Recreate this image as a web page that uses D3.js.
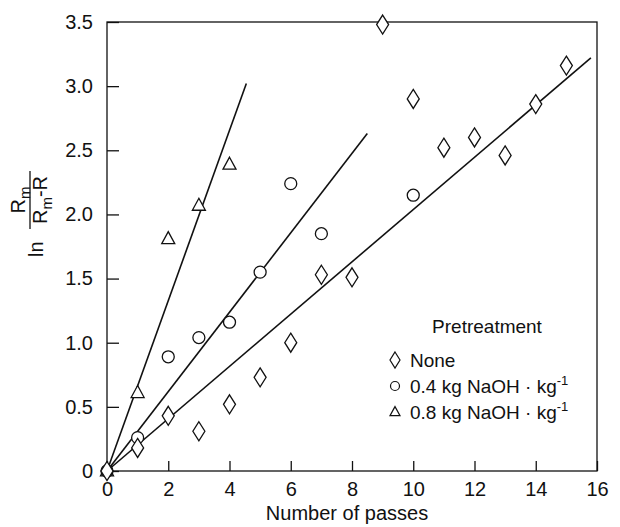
<!DOCTYPE html>
<html>
<head>
<meta charset="utf-8">
<script src="https://cdn.jsdelivr.net/npm/d3@7"></script>
<style>
body { margin: 0; background: #fff; }
text { font-family: "Liberation Sans", Arial, sans-serif; fill: #111; }
</style>
</head>
<body>
<div id="chart"></div>
<script>
// measured points, one pair of arrays per pretreatment
var passesNone = [0, 1, 2, 3, 4, 5, 6, 7, 8, 9, 10, 11, 12, 13, 14, 15];
var valuesNone = [0, 0.18, 0.43, 0.31, 0.52, 0.73, 1.0, 1.53, 1.51, 3.48, 2.9, 2.52, 2.6, 2.46, 2.86, 3.16];
var passesLow = [0, 1, 2, 3, 4, 5, 6, 7, 10];
var valuesLow = [0, 0.26, 0.89, 1.04, 1.16, 1.55, 2.24, 1.85, 2.15];
var passesHigh = [0, 1, 2, 3, 4];
var valuesHigh = [0, 0.61, 1.81, 2.07, 2.39];

// fitted lines, all from the origin to these end points
var fitEndX = [15.8, 8.5, 4.55];
var fitEndY = [3.22, 2.63, 3.02];

var xTicks = [0, 2, 4, 6, 8, 10, 12, 14, 16];
var yTicks = [0, 0.5, 1.0, 1.5, 2.0, 2.5, 3.0, 3.5];
var legendLabels = ["None", "0.4 kg NaOH \u00b7 kg", "0.8 kg NaOH \u00b7 kg"];

var width = 620, height = 527;
var plotLeft = 107, plotRight = 597, plotTop = 22, plotBottom = 471;

var svg = d3.select("#chart").append("svg")
  .attr("width", width)
  .attr("height", height);

var x = d3.scaleLinear().domain([0, 16]).range([plotLeft, plotRight]);
var y = d3.scaleLinear().domain([0, 3.5]).range([plotBottom, plotTop]);

// axes with inward ticks
var xAxis = d3.axisBottom(x)
  .tickValues(xTicks)
  .tickSizeInner(-10)
  .tickSizeOuter(0)
  .tickPadding(13)
  .tickFormat(d3.format("d"));

var yAxis = d3.axisLeft(y)
  .tickValues(yTicks)
  .tickSizeInner(-12)
  .tickSizeOuter(0)
  .tickPadding(14)
  .tickFormat(function(d) { return d === 0 ? "0" : d3.format(".1f")(d); });

var gx = svg.append("g")
  .attr("transform", "translate(0," + plotBottom + ")")
  .call(xAxis);
var gy = svg.append("g")
  .attr("transform", "translate(" + plotLeft + ",0)")
  .call(yAxis);

[gx, gy].forEach(function(g) {
  g.select(".domain").remove();
  g.selectAll("line").attr("stroke", "#111").attr("stroke-width", 1.3);
  g.selectAll("text")
    .attr("font-size", "20px")
    .attr("font-family", "Liberation Sans, Arial, sans-serif")
    .attr("fill", "#111");
});
gx.selectAll("text").attr("dy", "0.6em");

// frame
svg.append("rect")
  .attr("x", plotLeft)
  .attr("y", plotTop)
  .attr("width", plotRight - plotLeft)
  .attr("height", plotBottom - plotTop)
  .attr("fill", "none")
  .attr("stroke", "#111")
  .attr("stroke-width", 1.3);

// fitted lines
fitEndX.forEach(function(ex, i) {
  svg.append("line")
    .attr("x1", x(0)).attr("y1", y(0))
    .attr("x2", x(ex)).attr("y2", y(fitEndY[i]))
    .attr("stroke", "#111")
    .attr("stroke-width", 1.6);
});

function diamond(w, h) {
  return "M0," + (-h / 2) + "L" + (w / 2) + ",0L0," + (h / 2) + "L" + (-w / 2) + ",0Z";
}
function triangle(w, h) {
  return "M0," + (-h * 0.6) + "L" + (w / 2) + "," + (h * 0.4) + "L" + (-w / 2) + "," + (h * 0.4) + "Z";
}

function drawPoints(px, py, path, circleR) {
  var g = svg.append("g");
  px.forEach(function(p, i) {
    if (circleR) {
      g.append("circle")
        .attr("cx", x(p)).attr("cy", y(py[i]))
        .attr("r", circleR)
        .attr("fill", "#fff").attr("stroke", "#111").attr("stroke-width", 1.3);
    } else {
      g.append("path")
        .attr("d", path)
        .attr("transform", "translate(" + x(p) + "," + y(py[i]) + ")")
        .attr("fill", "#fff").attr("stroke", "#111").attr("stroke-width", 1.3);
    }
  });
}

drawPoints(passesHigh, valuesHigh, triangle(13, 12));
drawPoints(passesLow, valuesLow, null, 6);
drawPoints(passesNone, valuesNone, diamond(12, 19));

// x axis title
svg.append("text")
  .attr("x", (plotLeft + plotRight) / 2 - 5)
  .attr("y", 520)
  .attr("text-anchor", "middle")
  .attr("font-size", "20px")
  .text("Number of passes");

// y axis title: ln Rm / (Rm-R), rotated
var yl = svg.append("g").attr("transform", "rotate(-90)");
yl.append("text")
  .attr("x", -257).attr("y", 43)
  .attr("font-size", "20px")
  .text("ln");
var num = yl.append("text")
  .attr("x", -200).attr("y", 25)
  .attr("text-anchor", "middle")
  .attr("font-size", "20px");
num.append("tspan").text("R");
num.append("tspan").attr("dy", 5).attr("font-size", "15px").text("m");
yl.append("line")
  .attr("x1", -229).attr("x2", -171)
  .attr("y1", 30).attr("y2", 30)
  .attr("stroke", "#111").attr("stroke-width", 1.3);
var den = yl.append("text")
  .attr("x", -200).attr("y", 47)
  .attr("text-anchor", "middle")
  .attr("font-size", "20px");
den.append("tspan").text("R");
den.append("tspan").attr("dy", 5).attr("font-size", "15px").text("m");
den.append("tspan").attr("dy", -5).text("-R");

// legend
var legend = svg.append("g");
legend.append("text")
  .attr("x", 487).attr("y", 333)
  .attr("text-anchor", "middle")
  .attr("font-size", "19px")
  .text("Pretreatment");

var legendMarks = [
  function(g) { g.append("path").attr("d", diamond(10, 16)); },
  function(g) { g.append("circle").attr("r", 4.5); },
  function(g) { g.append("path").attr("d", triangle(10, 9)); }
];

legendLabels.forEach(function(lbl, i) {
  var row = legend.append("g").attr("transform", "translate(0," + (360 + i * 26) + ")");
  var m = row.append("g").attr("transform", "translate(395,0)");
  legendMarks[i](m);
  m.selectAll("path,circle").attr("fill", "#fff").attr("stroke", "#111").attr("stroke-width", 1.2);
  var t = row.append("text")
    .attr("x", 410).attr("y", 7)
    .attr("font-size", "19px")
    .text(lbl);
  if (i > 0) {
    t.append("tspan").attr("dy", -8).attr("font-size", "13px").text("-1");
  }
});
</script>
</body>
</html>
